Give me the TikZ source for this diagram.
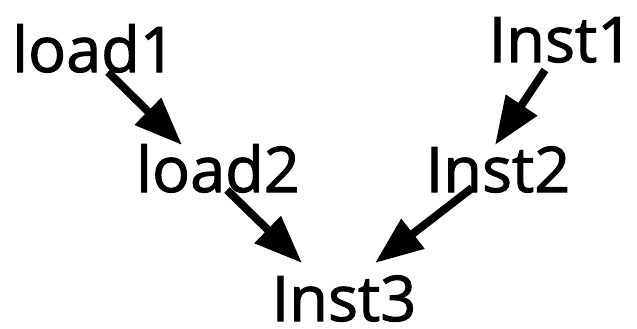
\documentclass[tikz,border=0pt]{standalone}
\usepackage{fontspec}
\setmainfont{Open Sans}[FakeBold=1.6]
\usetikzlibrary{arrows.meta,positioning}

\begin{document}
\begin{tikzpicture}[x=1pt,y=-1pt,
    every node/.style={font=\fontsize{63}{63}\selectfont, inner sep=0pt, anchor=base},
    dep/.style={-{Triangle[length=48pt,width=36pt]}, line width=8pt}]
    \useasboundingbox (0,0) rectangle (637,329);

      \node(load1) at (94,72)  {load1};
      \node(inst1) at (561,62) {Inst1};

      \node(load2) at (218,192) {load2};
      \node(inst2) at (498,192) {Inst2};

      \node(inst3) at (344,321) {Inst3};

    \draw ([xshift=14pt]load1.base) edge[dep] ([xshift=-36pt,yshift=47pt]load2.base);
    \draw ([xshift=-16pt,yshift=-8pt]inst1.base) edge[dep] ([xshift=-3pt,yshift=47pt]inst2.base);
    \draw ([xshift=9pt,yshift=2pt]load2.base) edge[dep] ([xshift=-42pt,yshift=58pt]inst3.base);
    \draw ([xshift=-26pt,yshift=4pt]inst2.base) edge[dep] ([xshift=31pt,yshift=58pt]inst3.base);
  \end{tikzpicture}
\end{document}
